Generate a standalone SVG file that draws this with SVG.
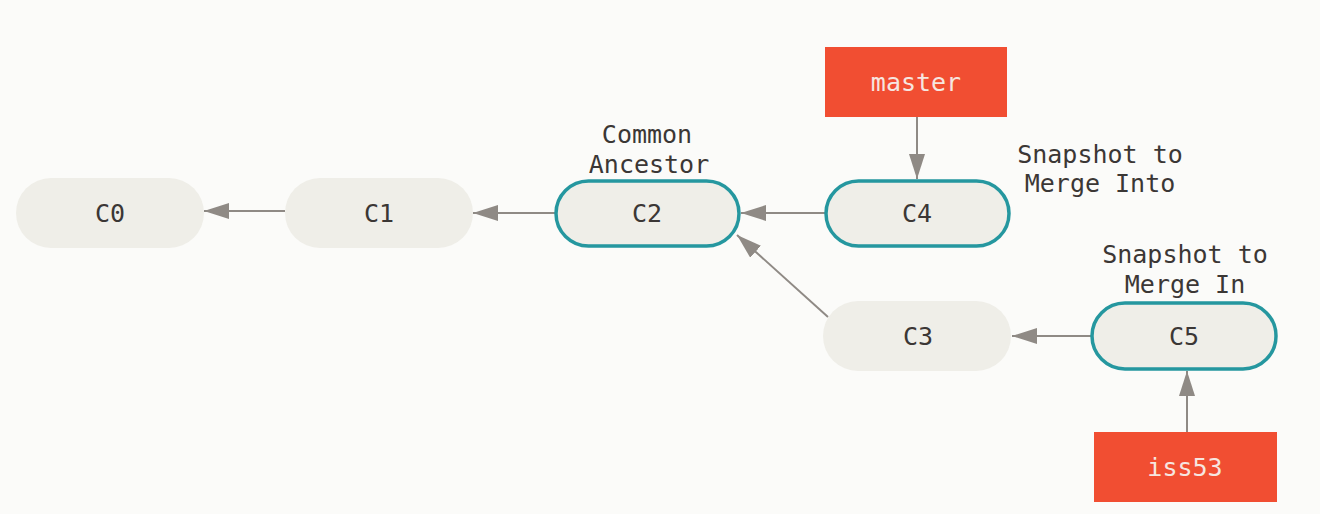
<svg xmlns="http://www.w3.org/2000/svg" width="1320" height="514" viewBox="0 0 1320 514">
<defs>
<marker id="ah" markerUnits="userSpaceOnUse" markerWidth="26" markerHeight="18" refX="25" refY="8" orient="auto">
<path d="M0,0 L25,8 L0,16 Z" fill="#8f8a85"/>
</marker>
<style>
.node{fill:#efeee8}
.sel{fill:#efeee8;stroke:#25979f;stroke-width:3.5}
.br{fill:#f14e32}
.t{font-family:"DejaVu Sans Mono","Liberation Mono",monospace;font-size:25px;fill:#3b3735;text-anchor:middle}
.bt{font-family:"DejaVu Sans Mono","Liberation Mono",monospace;font-size:25px;fill:#f6e6e0;text-anchor:middle}
.c{stroke:#8f8a85;stroke-width:2;fill:none;marker-end:url(#ah)}
</style>
</defs>
<rect width="1320" height="514" fill="#fbfbf9"/>
<g id="connectors">
<line class="c" x1="285" y1="211" x2="204" y2="211"/>
<line class="c" x1="555" y1="213" x2="473" y2="213"/>
<line class="c" x1="825" y1="213" x2="741" y2="213"/>
<line class="c" x1="828" y1="317" x2="737" y2="235"/>
<line class="c" x1="1092" y1="336" x2="1012" y2="336"/>
<line class="c" x1="917" y1="117" x2="917" y2="179"/>
<line class="c" x1="1187" y1="432" x2="1187" y2="371"/>
</g>
<g id="C0"><rect class="node" x="16" y="178" width="188" height="70" rx="35"/><text class="t" x="110" y="222">C0</text></g>
<g id="C1"><rect class="node" x="285" y="178" width="188" height="70" rx="35"/><text class="t" x="379" y="222">C1</text></g>
<g id="C2"><rect class="sel" x="556" y="181" width="183" height="65" rx="32.5"/><text class="t" x="647" y="222">C2</text>
<text class="t" x="647" y="143">Common</text><text class="t" x="649" y="173">Ancestor</text></g>
<g id="C4"><rect class="sel" x="826" y="181" width="183" height="65" rx="32.5"/><text class="t" x="917" y="222">C4</text></g>
<g id="C4label"><text class="t" x="1100" y="163">Snapshot to</text><text class="t" x="1100" y="192">Merge Into</text></g>
<g id="C3"><rect class="node" x="823" y="301" width="188" height="70" rx="35"/><text class="t" x="918" y="345">C3</text></g>
<g id="C5"><rect class="sel" x="1092" y="303" width="184" height="66" rx="33"/><text class="t" x="1184" y="345">C5</text>
<text class="t" x="1185" y="263">Snapshot to</text><text class="t" x="1185" y="293">Merge In</text></g>
<g id="master"><rect class="br" x="825" y="47" width="182" height="70"/><text class="bt" x="916" y="91">master</text></g>
<g id="iss53"><rect class="br" x="1094" y="432" width="183" height="70"/><text class="bt" x="1185" y="476">iss53</text></g>
</svg>
